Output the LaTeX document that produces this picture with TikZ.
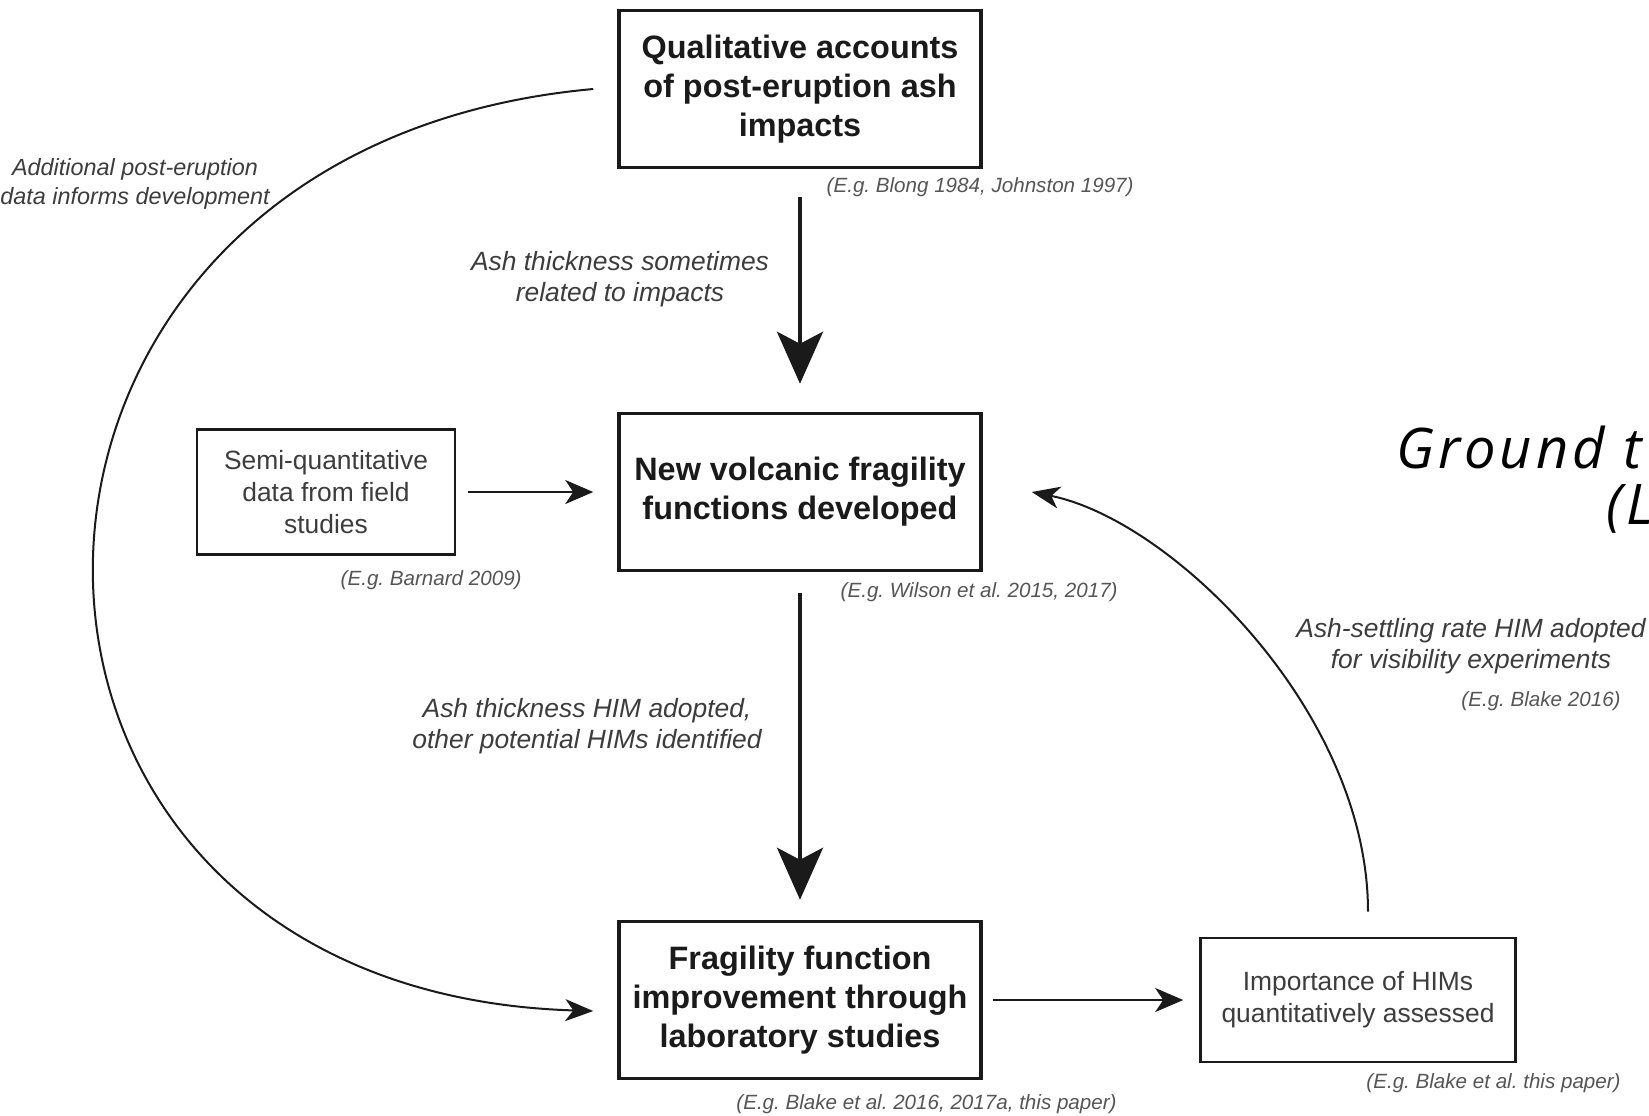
\documentclass[tikz,border=0pt]{standalone}
\usepackage{fontspec}
\setmainfont{Liberation Sans}
\newfontfamily\opensans[LetterSpace=7]{Open Sans}
\usepackage{tikz}
\usetikzlibrary{positioning,arrows.meta}
\definecolor{inkdark}{RGB}{26,26,26}
\definecolor{inkmid}{RGB}{60,60,60}
\definecolor{inkcite}{RGB}{85,85,85}
\frenchspacing
\tikzset{
  mainbox/.style={draw=inkdark,line width=1.75pt,minimum width=181pt,minimum height=78.5pt,inner sep=0pt,align=center,text=inkdark,font=\fontsize{16.2}{19.5}\selectfont\bfseries},
  subbox/.style={draw=inkdark,line width=1.3pt,inner sep=0pt,align=center,text=inkmid,font=\fontsize{13.2}{16}\selectfont},
  note/.style={align=center,inner sep=0pt,text=inkmid,font=\fontsize{13.2}{15.5}\selectfont\itshape},
  smallnote/.style={align=center,inner sep=0pt,text=inkmid,font=\fontsize{11.7}{14.7}\selectfont\itshape},
  cite/.style={inner sep=0pt,anchor=east,text=inkcite,font=\fontsize{10.3}{12}\selectfont\itshape},
  bigarrow/.style={draw=inkdark,line width=2pt,-{Stealth[length=26pt,width=23pt,inset=6pt]}},
  thinarrow/.style={draw=inkdark,line width=1.2pt,-{Stealth[length=14pt,width=12pt,inset=4pt]}},
  curvearrow/.style={draw=inkdark,line width=1pt,-{Stealth[length=14pt,width=11pt,inset=4pt]}},
  bigtitle/.style={inner sep=0pt,anchor=base west,font=\fontsize{28}{32}\selectfont\opensans\itshape}
}
\begin{document}
\begin{tikzpicture}[x=0.5pt,y=-0.5pt]
  \useasboundingbox (0,0) rectangle (1649,1115);
  \clip (0,0) rectangle (1649,1115);
  \node[mainbox] (acc) at (800,89) {Qualitative accounts\\of post-eruption ash\\impacts};
  \node[mainbox] (newff) at (800,492) {New volcanic fragility\\functions developed};
  \node[mainbox] (lab) at (800,1000) {Fragility function\\improvement through\\laboratory studies};
  \node[subbox,minimum width=129pt,minimum height=62.5pt] (field) at (326,492) {Semi-quantitative\\data from field\\studies};
  \node[subbox,minimum width=157.5pt,minimum height=62pt] (him) at (1358,1000) {Importance of HIMs\\quantitatively assessed};

  \node[cite] (citeacc) at (1134,187) {(E.g. Blong 1984, Johnston 1997)};
  \node[cite] (citefield) at (522,580) {(E.g. Barnard 2009)};
  \node[cite] (citenewff) at (1118,592) {(E.g. Wilson et al. 2015, 2017)};
  \node[cite] (citelab) at (1117,1104) {(E.g. Blake et al. 2016, 2017a, this paper)};
  \node[cite] (citehim) at (1621,1083) {(E.g. Blake et al. this paper)};
  \node[cite] (citeset) at (1621,701) {(E.g. Blake 2016)};

  \node[note] (thick) at (620,279) {Ash thickness sometimes\\related to impacts};
  \node[note] (himthick) at (587,726) {Ash thickness HIM adopted,\\other potential HIMs identified};
  \node[note] (settle) at (1471,646) {Ash-settling rate HIM adopted\\for visibility experiments};
  \node[smallnote] (extra) at (135,184) {Additional post-eruption\\data informs development};

  \node[bigtitle] (ground) at (1396,468) {Ground t};
  \node[bigtitle] (groundlab) at (1606,524) {(L};

  \draw[bigarrow,shorten <=14pt,shorten >=14pt] (acc) -- (newff);
  \draw[bigarrow,shorten <=10.5pt,shorten >=10pt] (newff) -- (lab);
  \draw[thinarrow,shorten <=6pt,shorten >=12pt] (field) -- (newff);
  \draw[thinarrow,shorten <=5pt,shorten >=8pt] (lab) -- (him);
  \draw[curvearrow] ([xshift=-12pt]acc.west) .. controls +(-664,60) and +(-664,-20) .. ([xshift=-12pt,yshift=-5.5pt]lab.west);
  \draw[curvearrow] ([xshift=5pt,yshift=12.5pt]him.north) .. controls +(0,-200) and +(140,28) .. ([xshift=24.5pt]newff.east);
\end{tikzpicture}
\end{document}
